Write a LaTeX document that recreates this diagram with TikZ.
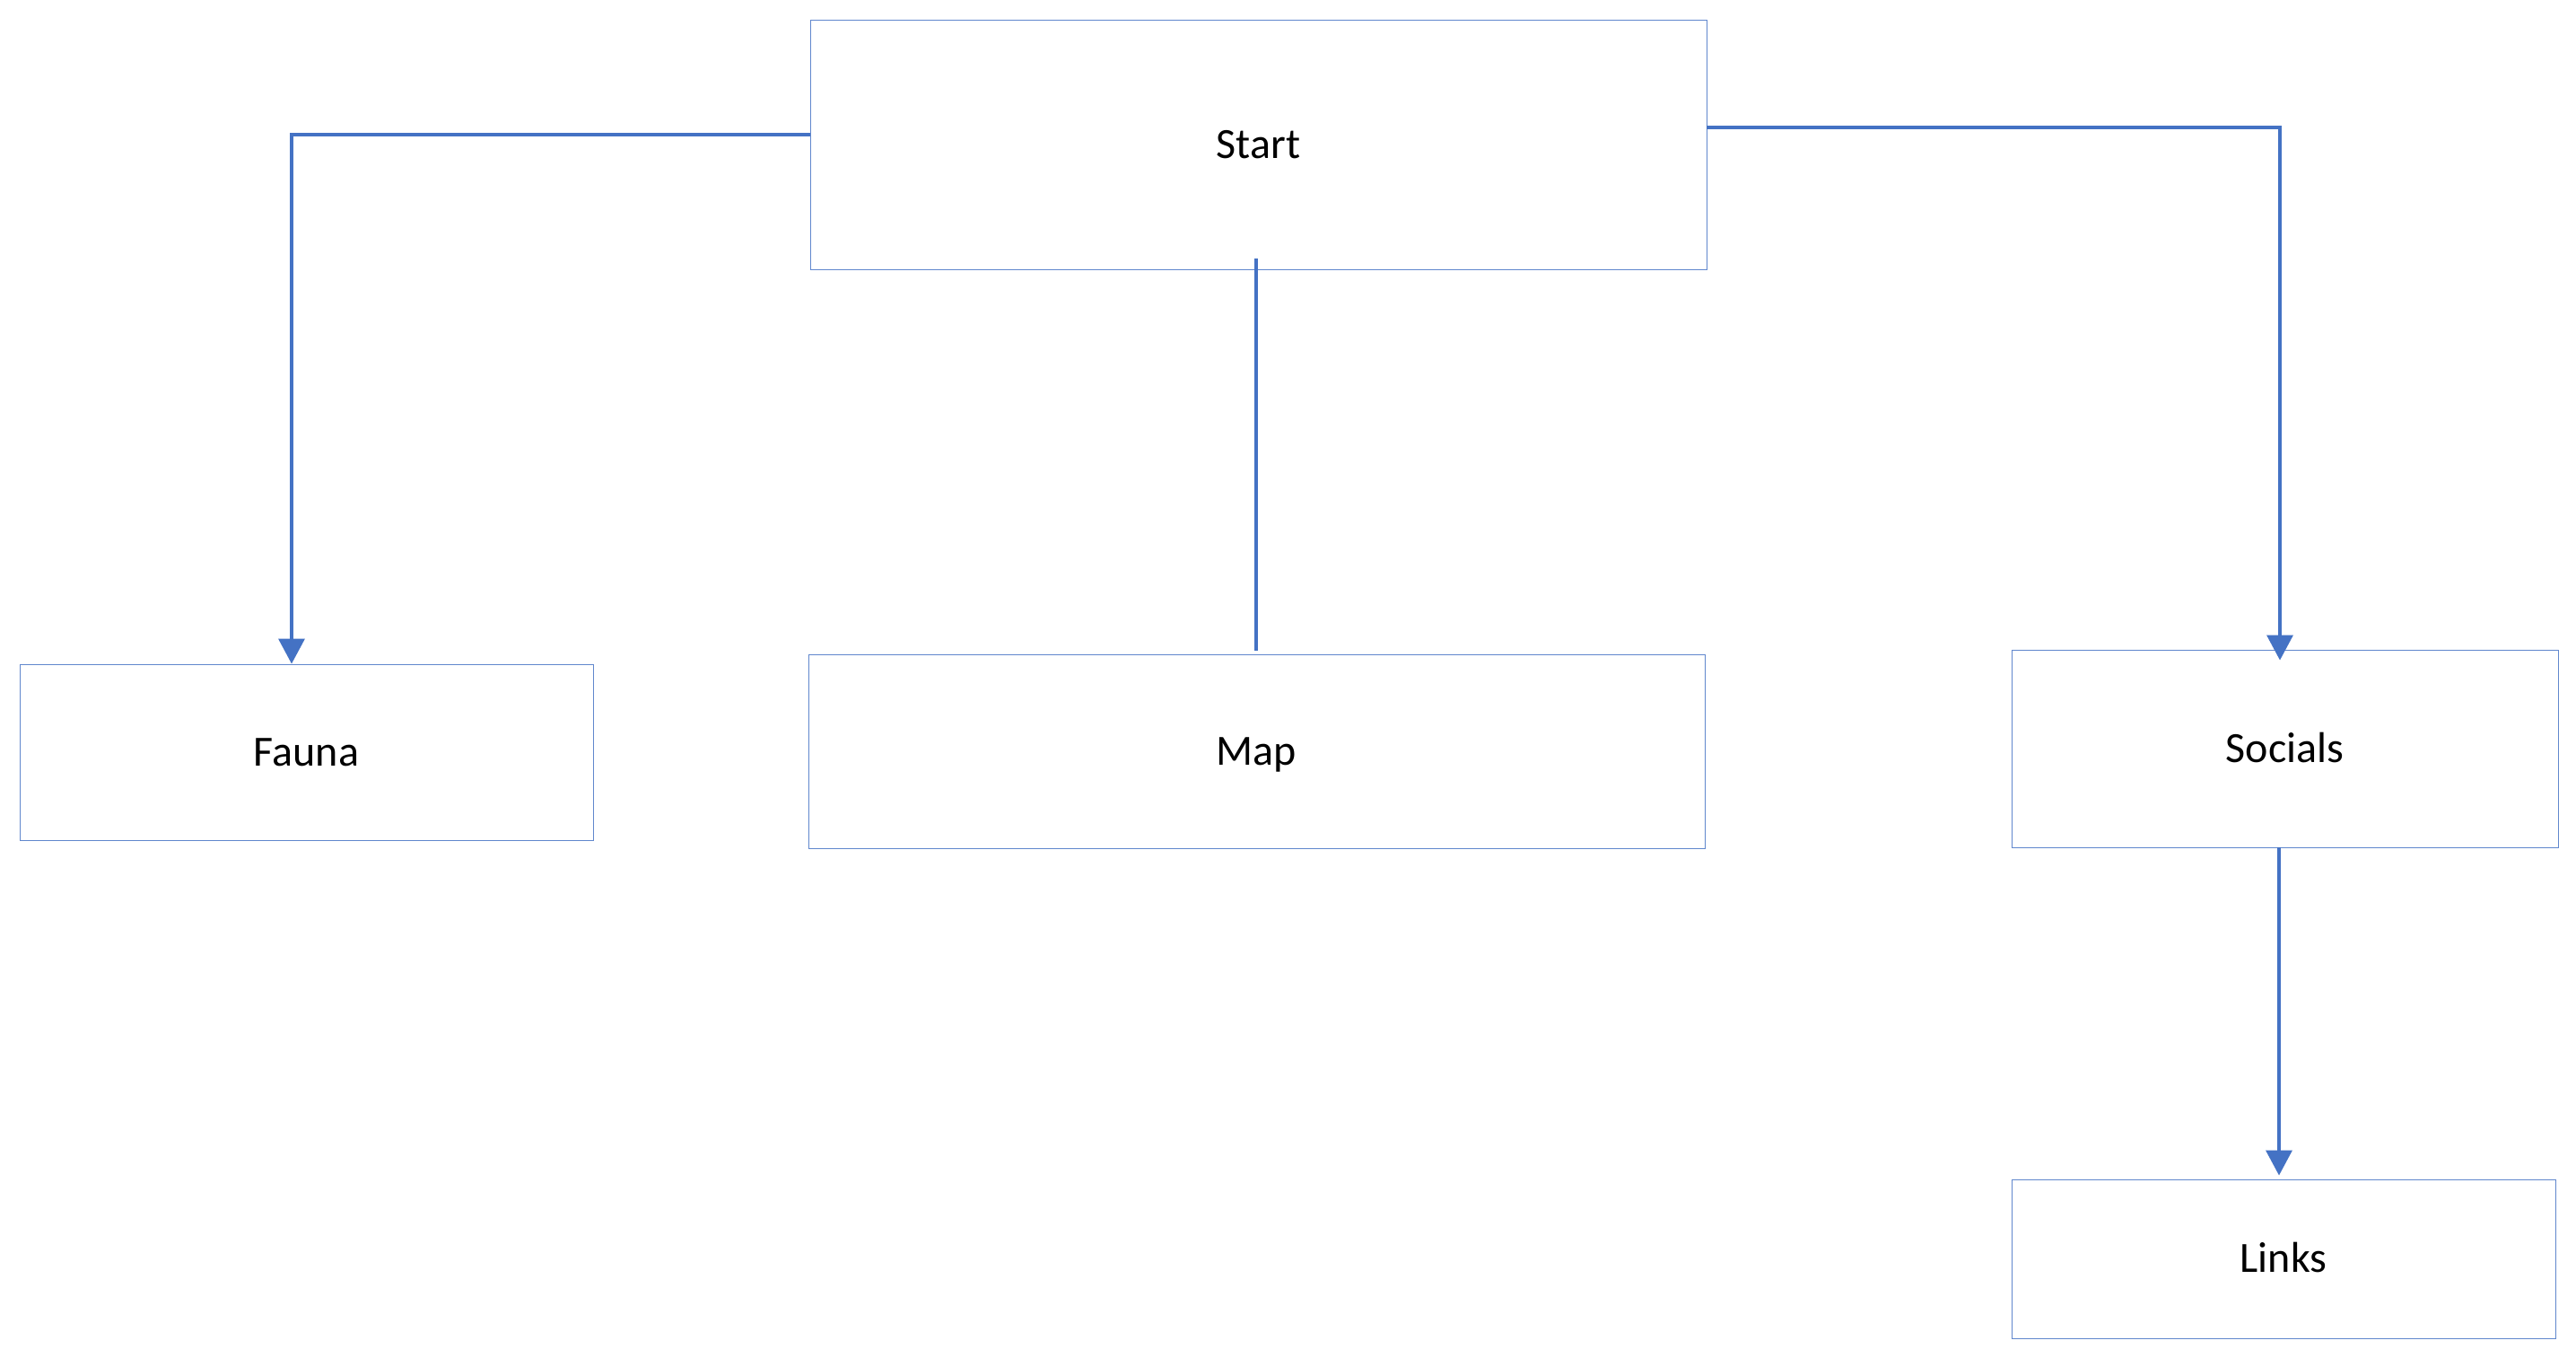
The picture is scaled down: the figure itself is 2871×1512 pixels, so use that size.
\documentclass[tikz,border=0pt]{standalone}
\usepackage{fontspec}
\setmainfont{Carlito}
\usetikzlibrary{arrows.meta}
\definecolor{offblue}{HTML}{4472C4}
\tikzset{
  box/.style={draw=offblue!85, line width=0.45pt, fill=white, rectangle, inner sep=0pt,
    font=\fontsize{24}{28}\selectfont, text=black, text height=15pt, text depth=0pt},
  conn/.style={draw=offblue, line width=1.75pt},
  arr/.style={conn, -{Triangle[width=14.5pt,length=14pt]}}
}
\begin{document}
\begin{tikzpicture}[x=0.5pt,y=-0.5pt]
\useasboundingbox[fill=white] (0,0) rectangle (2871,1512);
\node[box, minimum width=499.5pt, minimum height=139pt] (start) at (1402.5,161) {Start};
\node[box, minimum width=319.5pt, minimum height=98pt] (fauna) at (341.5,838) {Fauna};
\node[box, minimum width=499.5pt, minimum height=108pt] (map) at (1400.5,837) {Map};
\node[box, minimum width=304.5pt, minimum height=110pt] (socials) at (2546.5,834) {Socials};
\node[box, minimum width=303pt, minimum height=88.5pt] (links) at (2545,1402.5) {Links};
\draw[arr] ([yshift=5.5pt]start.west) -| ([xshift=-8.25pt]fauna.north);
\draw[arr, shorten >=-6pt] ([yshift=9.5pt]start.east) -| ([xshift=-2.75pt]socials.north);
\draw[conn, shorten <=-6pt, shorten >=2pt] ([xshift=-1.25pt]start.south) -- ([xshift=-1.25pt]start.south |- map.north);
\draw[arr, shorten >=2pt] ([xshift=-3.25pt]socials.south) -- ([xshift=-3.25pt]socials.south |- links.north);
\end{tikzpicture}
\end{document}
